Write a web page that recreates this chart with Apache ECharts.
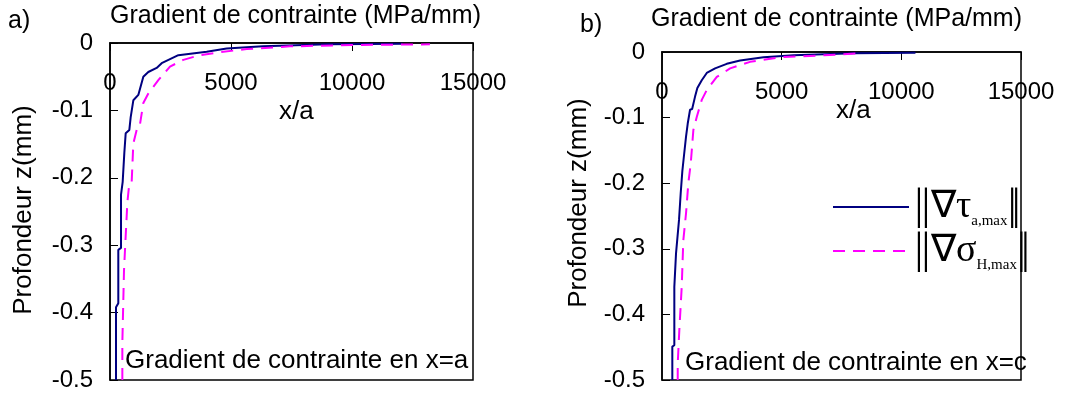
<!DOCTYPE html>
<html>
<head>
<meta charset="utf-8">
<script src="https://cdn.jsdelivr.net/npm/echarts@6/dist/echarts.min.js"></script>
<style>html,body{margin:0;padding:0;background:#fff}#c{width:1091px;height:405px}</style>
</head>
<body>
<div id="c"></div>
<script>
// Panel a) : x/a gradient vs depth z (mm)
var tauA_x = [248,248,343,343,455,455,524,592,648,799,855,964,1170,1377,1583,1928,2135,2824,3995,4820,6320,9000,12100];
var tauA_z = [-0.5,-0.392,-0.386,-0.307,-0.304,-0.225,-0.206,-0.163,-0.134,-0.129,-0.110,-0.085,-0.077,-0.050,-0.043,-0.037,-0.030,-0.018,-0.013,-0.008,-0.005,-0.002,-0.001];
var sigA_x = [510,510,579,661,716,799,896,964,1102,1212,1377,1583,1997,2479,3030,3719,4683,5650,7438,10000,13220];
var sigA_z = [-0.5,-0.445,-0.337,-0.277,-0.237,-0.208,-0.206,-0.149,-0.129,-0.127,-0.089,-0.075,-0.055,-0.035,-0.025,-0.018,-0.013,-0.009,-0.005,-0.003,-0.002];
// Panel b)
var tauB_x = [431,431,515,515,586,586,657,711,782,849,921,1004,1075,1172,1260,1381,1477,1661,1870,2218,2706,3264,4240,5495,8000,10590];
var tauB_z = [-0.5,-0.449,-0.447,-0.358,-0.355,-0.307,-0.304,-0.256,-0.215,-0.182,-0.157,-0.129,-0.109,-0.088,-0.087,-0.068,-0.055,-0.043,-0.032,-0.025,-0.018,-0.013,-0.008,-0.005,-0.002,-0.001];
var sigB_x = [657,657,724,824,891,1004,1100,1201,1310,1452,1661,1870,2289,2845,3682,4937,6749,8285];
var sigB_z = [-0.5,-0.475,-0.424,-0.358,-0.287,-0.246,-0.200,-0.170,-0.119,-0.099,-0.073,-0.058,-0.038,-0.025,-0.015,-0.008,-0.005,-0.002];

var xTicks = {min: 0, max: 15000, interval: 5000};
var yTicks = {min: -0.5, max: 0, interval: 0.1};

function pairs(xs, zs){ return xs.map(function(x,i){ return [x, zs[i]]; }); }

var FONT = 'Liberation Sans, Arial, sans-serif';
var SERIF = 'Liberation Serif, Times New Roman, serif';
var BARF = 'DejaVu Sans ExtraLight, Liberation Serif, serif';

function xAx(gi){
  return {
    gridIndex: gi, type: 'value', position: 'top',
    min: xTicks.min, max: xTicks.max, interval: xTicks.interval,
    axisLine: {show: true, lineStyle: {color: '#000', width: 1.5}},
    axisTick: {show: true, inside: true, length: 8, lineStyle: {color: '#000', width: 1}},
    axisLabel: {inside: true, margin: 28, fontFamily: FONT, fontSize: 24, color: '#000',
      formatter: function(v){ return String(v); }},
    splitLine: {show: false}
  };
}
function yAx(gi, gap, pad){
  return {
    gridIndex: gi, type: 'value',
    min: yTicks.min, max: yTicks.max, interval: yTicks.interval,
    name: 'Profondeur z(mm)', nameLocation: 'middle', nameGap: gap, nameRotate: 90,
    nameTextStyle: {fontFamily: FONT, fontSize: 26, color: '#000', padding: pad},
    axisLine: {show: true, lineStyle: {color: '#000', width: 1.5}},
    axisTick: {show: true, inside: true, length: 8, lineStyle: {color: '#000', width: 1}},
    axisLabel: {margin: 17, fontFamily: FONT, fontSize: 24, color: '#000',
      formatter: function(v){ return v === 0 ? '0' : String(Math.round(v*10)/10); }},
    splitLine: {show: false}
  };
}
function line(name, gi, data, dashed){
  return {
    name: name, type: 'line', xAxisIndex: gi, yAxisIndex: gi,
    data: data, symbol: 'none', showSymbol: false, animation: false,
    lineStyle: dashed ? {color: '#FF00FF', width: 2, type: [12, 8]} : {color: '#000080', width: 2},
    itemStyle: {color: dashed ? '#FF00FF' : '#000080'}
  };
}
function txt(t, left, top, size){
  return {text: t, left: left, top: top, padding: 0,
    textStyle: {fontFamily: FONT, fontSize: size || 25, fontWeight: 'normal', color: '#000'}};
}

var chart = echarts.init(document.getElementById('c'), null, {renderer: 'canvas'});
chart.setOption({
  animation: false,
  backgroundColor: '#fff',
  title: [
    txt('a)', 8, 9),
    txt('Gradient de contrainte (MPa/mm)', 110, 4),
    txt('x/a', 279, 99, 26),
    txt('Gradient de contrainte en x=a', 125, 348, 26),
    txt('b)', 580, 13),
    txt('Gradient de contrainte (MPa/mm)', 651, 7),
    txt('x/a', 836, 98, 26),
    txt('Gradient de contrainte en x=c', 685, 350, 26)
  ],
  grid: [
    {left: 110, top: 43, width: 363, height: 337, show: true, borderColor: '#000', borderWidth: 1.5, backgroundColor: 'transparent'},
    {left: 662, top: 52, width: 359, height: 328, show: true, borderColor: '#000', borderWidth: 1.5, backgroundColor: 'transparent'}
  ],
  xAxis: [xAx(0), xAx(1)],
  yAxis: [yAx(0, 73, [0,0,0,3]), yAx(1, 70, [0,0,0,26])],
  legend: {
    orient: 'vertical', left: 827, top: 180, itemWidth: 76, itemHeight: 2, itemGap: 0,
    data: ['tau', 'sigma'], selectedMode: false,
    itemStyle: {opacity: 0},
    formatter: function(n){
      return n === 'tau' ? '{p||}{q||}{s|∇τ}{sub|a,max}{r||}{q||}' : '{p||}{q||}{s|∇σ}{sub|H,max}{r||}{q||}';
    },
    textStyle: {
      fontFamily: SERIF, color: '#000', lineHeight: 43,
      rich: {
        p: {fontFamily: BARF, fontSize: 44, lineHeight: 43, width: 10, align: 'right', color: '#000'},
        r: {fontFamily: BARF, fontSize: 44, lineHeight: 43, width: 9, align: 'right', color: '#000'},
        q: {fontFamily: BARF, fontSize: 44, lineHeight: 43, width: 4, align: 'right', color: '#000'},
        s: {fontFamily: SERIF, fontSize: 38, lineHeight: 43, padding: [0,0,0,3], color: '#000'},
        sub: {fontFamily: SERIF, fontSize: 15, lineHeight: 43, verticalAlign: 'bottom', color: '#000'}
      }
    }
  },
  series: [
    line('tau', 0, pairs(tauA_x, tauA_z), false),
    line('sigma', 0, pairs(sigA_x, sigA_z), true),
    line('tau', 1, pairs(tauB_x, tauB_z), false),
    line('sigma', 1, pairs(sigB_x, sigB_z), true)
  ]
});
</script>
</body>
</html>
